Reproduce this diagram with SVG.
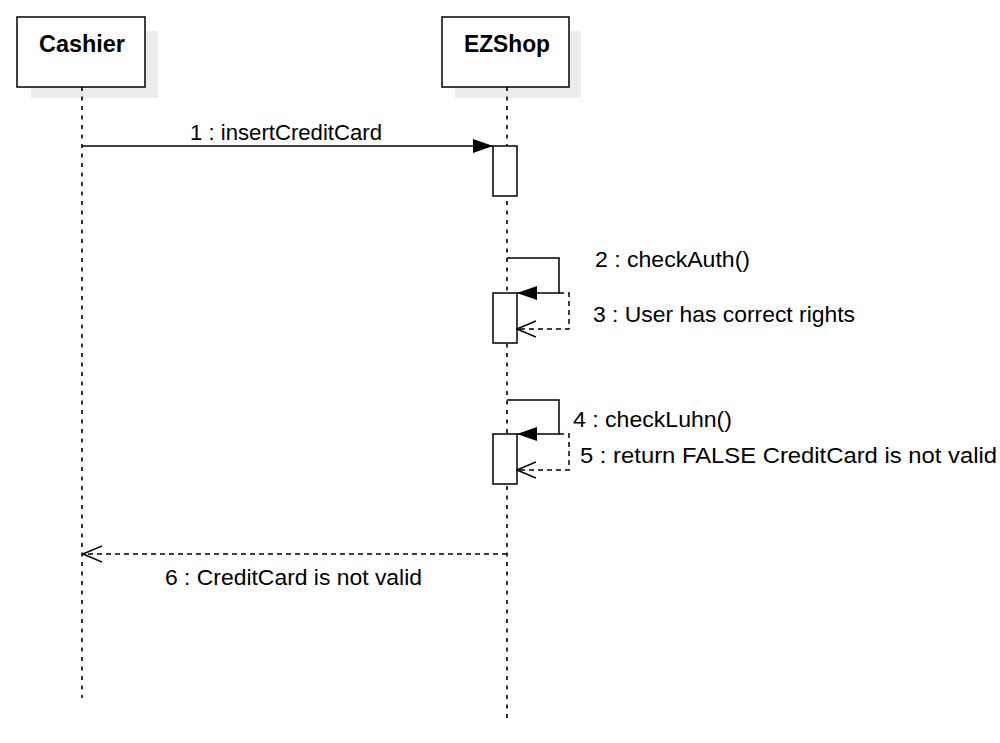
<svg xmlns="http://www.w3.org/2000/svg" width="1000" height="743" viewBox="0 0 1000 743">
<defs>
<style>
.shadow{fill:#ececec;stroke:none}
.box{fill:#fff;stroke:#000;stroke-width:1.5}
.title{font-family:"Liberation Sans",Arial,sans-serif;font-weight:bold;font-size:23.5px;fill:#000;text-anchor:start}
.lbl{font-family:"Liberation Sans",Arial,sans-serif;font-size:21.5px;fill:#000}
.life{stroke:#000;stroke-width:1.6;stroke-dasharray:4 5.5;fill:none}
.msg{stroke:#000;stroke-width:1.5;fill:none}
.ret{stroke:#000;stroke-width:1.5;stroke-dasharray:5 4;fill:none}
.act{fill:#fff;stroke:#000;stroke-width:1.5}
</style>
<marker id="filled" markerWidth="20" markerHeight="16" viewBox="0 0 20 16" refX="20" refY="8" orient="auto" markerUnits="userSpaceOnUse">
<path d="M0,1 L20,8 L0,15 Z" fill="#000"/>
</marker>
<marker id="open" markerWidth="20" markerHeight="18" viewBox="0 0 20 18" refX="19" refY="9" orient="auto" markerUnits="userSpaceOnUse">
<path d="M0,1 L19,9 L0,17" fill="none" stroke="#000" stroke-width="1.5"/>
</marker>
</defs>
<rect width="1000" height="743" fill="#fff"/>

<g id="cashier">
<rect class="shadow" x="31" y="31" width="127" height="67"/>
<rect class="box" x="17" y="17" width="128" height="70"/>
<text class="title" x="39" y="52" textLength="86" lengthAdjust="spacingAndGlyphs">Cashier</text>
<line class="life" x1="82" y1="87" x2="82" y2="698"/>
</g>

<g id="ezshop">
<rect class="shadow" x="455" y="31" width="126" height="67"/>
<rect class="box" x="442" y="17" width="127" height="70"/>
<text class="title" x="464" y="52" textLength="86" lengthAdjust="spacingAndGlyphs">EZShop</text>
<line class="life" x1="507" y1="87" x2="507" y2="721"/>
</g>

<g id="activations">
<rect class="act" x="493" y="146" width="24" height="50"/>
<rect class="act" x="493" y="293" width="24" height="50"/>
<rect class="act" x="493" y="434" width="24" height="50"/>
</g>

<g id="connectors">
<line class="msg" x1="82" y1="146" x2="493" y2="146" marker-end="url(#filled)"/>
<polyline class="msg" points="507,258 559,258 559,293 517,293" marker-end="url(#filled)"/>
<polyline class="ret" points="559,293 569,293 569,329 517,329" marker-end="url(#open)"/>
<polyline class="msg" points="507,400 559,400 559,434 517,434" marker-end="url(#filled)"/>
<polyline class="ret" points="559,434 569,434 569,470 517,470" marker-end="url(#open)"/>
<line class="ret" x1="507" y1="554" x2="83" y2="554" marker-end="url(#open)"/>
</g>

<g id="labels">
<text class="lbl" x="190" y="140" textLength="192" lengthAdjust="spacingAndGlyphs">1 : insertCreditCard</text>
<text class="lbl" x="595" y="267" textLength="155" lengthAdjust="spacingAndGlyphs">2 : checkAuth()</text>
<text class="lbl" x="593" y="322" textLength="262" lengthAdjust="spacingAndGlyphs">3 : User has correct rights</text>
<text class="lbl" x="573" y="427" textLength="159" lengthAdjust="spacingAndGlyphs">4 : checkLuhn()</text>
<text class="lbl" x="580" y="463" textLength="417" lengthAdjust="spacingAndGlyphs">5 : return FALSE CreditCard is not valid</text>
<text class="lbl" x="165" y="585" textLength="257" lengthAdjust="spacingAndGlyphs">6 : CreditCard is not valid</text>
</g>
</svg>
